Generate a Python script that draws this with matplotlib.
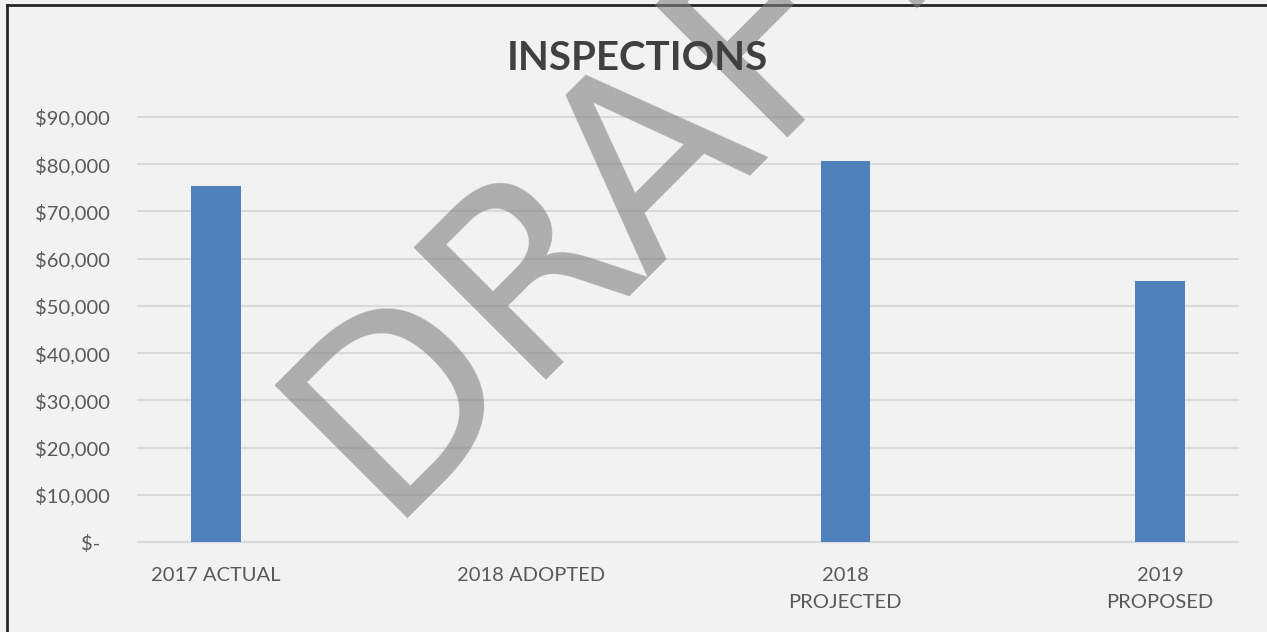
import matplotlib.pyplot as plt
from matplotlib.lines import Line2D

# Chart data
categories = ['2017 ACTUAL', '2018 ADOPTED', '2018\nPROJECTED', '2019\nPROPOSED']
values = [75400, 0, 80700, 55300]
yticks = [0, 10000, 20000, 30000, 40000, 50000, 60000, 70000, 80000, 90000]
ytick_labels = ['$-  '] + [f'${v:,}' for v in yticks[1:]]

plt.rcParams['font.family'] = ['Lato', 'DejaVu Sans']

fig = plt.figure(figsize=(12.67, 6.32), dpi=100, facecolor='#f2f2f2')
ax = fig.add_axes([138/1267, 1 - 542/632, 1100/1267, 425/632])
ax.set_facecolor('#f2f2f2')

x = range(len(categories))
ax.bar(x, values, width=0.156, color='#4f81bd', zorder=2)

ax.set_xlim(-0.248, 3.248)
ax.set_ylim(0, 90000)
ax.set_yticks(yticks)
ax.set_yticklabels(ytick_labels)
ax.set_xticks(list(x))
ax.set_xticklabels(categories, linespacing=1.75)
ax.tick_params(axis='both', length=0, labelsize=14.5, colors='#595959')
ax.tick_params(axis='y', pad=20)
ax.tick_params(axis='x', pad=18)
for s in ax.spines.values():
    s.set_visible(False)
ax.yaxis.grid(True, color='#d9d9d9', linewidth=1.5)
ax.set_axisbelow(True)
for gl in ax.get_ygridlines():
    gl.set_clip_on(False)

# title and watermark
fig.text(0.503, 1 - 58/632, 'INSPECTIONS', ha='center', va='center',
         fontsize=29, fontweight='bold', color='#404040', zorder=6)
fig.text(0.3023, 0.1804, 'DRAFT', rotation=45, rotation_mode='anchor',
         ha='left', va='baseline', fontsize=184, family='DejaVu Sans',
         color='#7f7f7f', alpha=0.6, zorder=5)

# frame of the pasted picture
fig.add_artist(Line2D([7/1267, 7/1267], [0, 1 - 5/632], color='#262626', lw=2))
fig.add_artist(Line2D([7/1267, 1], [1 - 5/632, 1 - 5/632], color='#262626', lw=2))

fig.savefig('out.png', dpi=100, facecolor=fig.get_facecolor())
